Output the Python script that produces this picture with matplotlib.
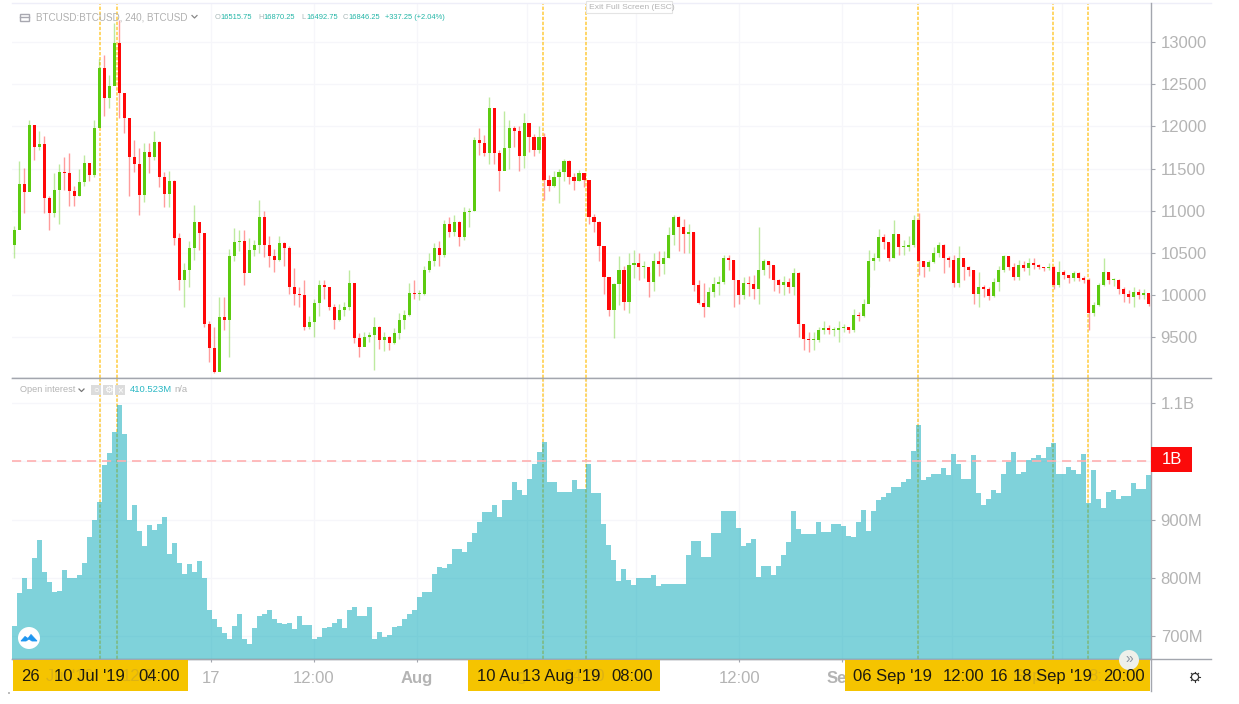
import matplotlib
matplotlib.use("Agg")
import matplotlib.pyplot as plt
from matplotlib.lines import Line2D
from matplotlib.patches import Circle, Rectangle, Polygon
from matplotlib.transforms import Affine2D

plt.rcParams['font.family'] = ['Liberation Sans', 'DejaVu Sans']

W, H = 1239, 704

close_px = [
10775,11320,11220,12020,11760,11790,11150,10970,11250,11460,11450,11230,11170,11345,11565,11430,
11980,12690,12335,12480,12990,12400,12100,11640,11550,11190,11700,11640,11820,11405,11200,11350,
10675,10180,10300,10560,10870,10735,9665,9370,9090,9745,9705,10460,10635,10640,10260,10535,10595,
10930,10595,10460,10420,10615,10560,10100,10020,10000,9630,9685,9905,10120,10100,9865,9710,9825,
9860,10140,9490,9390,9510,9530,9625,9470,9510,9430,9550,9710,
9770,10025,10010,10020,10300,10400,10555,10480,10850,10750,10870,10690,10990,11000,11840,11800,
11680,12215,11680,11470,11740,11980,11940,11650,12040,11870,11720,11880,11370,11290,11400,11465,
11585,11405,11350,11445,11370,10930,10870,10580,10220,9825,10130,10300,9925,10360,10380,10340,
10340,10160,10400,10370,10440,10715,10930,10810,10730,10750,10120,9910,9865,10040,10130,10160,
10440,10420,10180,10000,10140,10130,10080,10300,10400,10360,10180,10120,10160,10100,10260,9665,
9480,9470,9470,9590,9610,9590,9590,9610,9625,9590,9765,9760,9900,10400,10440,10695,10630,10440,
10730,10570,10570,10590,10890,10400,10340,10395,10500,10600,10440,10415,10140,10440,10340,10300,
10020,10100,10080,9990,10160,10300,10460,10340,10220,10360,10320,10380,10360,10340,10320,10340,
10120,10280,10240,10200,10260,10200,10180,9785,9885,10120,10280,10180,10180,10080,10020,9980,
10040,10000,10030,9900]
high_px = [
10815,11585,11505,12080,11980,11940,11890,11180,11450,11550,11640,11680,11300,11490,11660,11520,
12080,12800,12850,12610,13225,13265,12400,12100,11840,11740,11800,11800,11940,11830,11460,11470,
11370,10735,10380,10640,11070,10870,10580,9700,9620,9980,9980,10550,10795,10770,10775,10680,10650,
11130,11000,10700,10550,10700,10630,10580,10320,10100,10180,9750,9950,10180,10180,10050,9900,9900,
9920,10300,10130,9550,9560,9570,9745,9640,9570,9520,9610,9790,
9820,10140,10180,10060,10350,10500,10620,10640,10890,10930,10950,10880,11050,11030,11880,11980,
11900,12350,11840,11720,12180,12080,12000,12000,12160,12020,11910,12000,11920,11420,11470,11500,
11620,11600,11450,11480,11450,11330,10960,10880,10560,10200,10150,10460,10350,10500,10540,10500,
10400,10280,10500,10520,10520,10810,10950,10940,10900,10850,10750,10180,10150,10100,10220,10230,
10480,10480,10420,10100,10220,10230,10240,10810,10430,10400,10350,10190,10230,10200,10320,10270,
9660,9560,9570,9630,9690,9650,9630,9700,9660,9630,9840,9800,9950,10540,10500,10790,10720,10620,
10890,10730,10660,10700,10950,10970,10400,10420,10570,10630,10610,10470,10480,10580,10420,10350,
10300,10280,10120,10100,10200,10350,10480,10460,10380,10420,10400,10440,10440,10370,10340,10380,
10350,10400,10300,10240,10290,10270,10230,10200,9920,10140,10440,10280,10210,10190,10100,10060,
10100,10080,10070,10000]
low_px = [
10440,10810,10970,11250,11600,11720,10970,10770,10930,10850,11250,11060,11060,11170,11300,11350,
11400,12200,12120,12220,12550,12100,11920,11170,11465,10950,11110,11450,11600,11280,11050,11050,
10600,10060,9865,10100,10420,10540,9620,9210,9080,9150,9590,9270,10400,10520,10120,10340,10460,
10500,10450,10330,10280,10400,10350,10010,9890,9865,9590,9600,9510,9750,9950,9830,9600,9700,
9750,9830,9440,9270,9400,9450,9115,9360,9340,9350,9420,9480,
9600,9760,9950,9945,10000,10280,10350,10350,10450,10690,10700,10580,10650,10810,11000,11660,
11650,11560,11560,11230,11485,11500,11760,11470,11510,11700,11650,11680,11130,11230,11280,11090,
11350,11320,11250,11350,11280,10850,10750,10400,10020,9760,9490,9880,9820,9785,10200,10180,
10200,9985,10050,10230,10250,10440,10600,10530,10500,10500,10050,9900,9745,9860,9980,10000,
10130,10300,9865,9900,9950,9990,9950,9900,10240,10200,10050,10030,10000,10030,10000,9510,
9350,9330,9350,9450,9540,9540,9520,9450,9570,9550,9560,9700,9740,10100,10300,10400,10550,10400,
10440,10480,10480,10530,10570,10240,10220,10290,10380,10450,10260,10330,10100,10100,10180,10230,
9900,9865,9980,9940,9980,10050,10280,10300,10180,10180,10290,10240,10310,10310,10290,10300,
10080,10100,10190,10150,10170,10170,10140,9590,9750,9870,10110,10130,10110,10010,9920,9910,
9860,9950,9950,9870]
first_open = 10600

open_interest_m = [
718,773,800,781,834,864,810,792,776,778,813,800,800,804,825,870,900,930,993,1015,1050,1097,1046,899,
925,880,855,890,882,893,905,840,859,825,806,824,810,829,800,745,730,715,705,695,718,738,695,687,713,
735,738,745,730,722,720,722,712,735,719,719,695,698,714,715,722,730,713,745,750,735,735,750,695,707,
698,702,715,718,729,738,745,767,
776,776,807,818,817,824,850,850,844,862,876,896,913,913,925,905,933,933,965,950,942,970,996,1016,1033,
964,964,948,948,948,968,953,953,996,946,946,893,856,830,794,815,796,787,799,799,799,804,785,790,790,
790,790,790,839,863,863,836,836,876,876,914,914,914,885,855,859,866,801,821,821,804,821,839,862,914,
883,875,875,875,895,879,879,893,893,
889,872,870,896,917,880,914,933,939,945,955,955,965,970,1017,1062,968,973,979,979,988,976,1012,996,
970,970,1010,945,925,936,950,945,979,998,1016,979,982,1002,1006,1010,1006,1025,1031,978,978,990,985,
979,1012,929,985,936,919,948,950,935,941,941,962,953,953,976]

price_ticks = [9500, 10000, 10500, 11000, 11500, 12000, 12500, 13000]
oi_ticks = [700, 800, 900, 1000, 1100]
oi_tick_labels = ['700M', '800M', '900M', '', '1.1B']
event_bars = [17.2, 20.5, 105.7, 114.5, 180.8, 207.9, 214.8]
grid_bars = [39.3, 59.9, 80.5, 102.5, 124.5, 145.1, 165.7, 187.7, 209.7]
grid_labels = ['17', '12:00', 'Aug', '', '', '12:00', 'Sep', '', '']
threshold_m = 1000

GREEN, RED = '#5ccb10', '#ff0808'
GREY_TXT = '#b4b4b4'
LINE = '#a3a6ae'
GRID = '#f6f6fa'
TEAL = '#22b5a6'


def fx(x):
    return x / W


def fy(y):
    return 1 - y / H


fig = plt.figure(figsize=(W / 100, H / 100), dpi=100, facecolor='white')
ax1 = fig.add_axes([fx(12), fy(378), (1151 - 12) / W, (378 - 3) / H])
ax2 = fig.add_axes([fx(12), fy(659), (1151 - 12) / W, (659 - 378) / H])

n = len(close_px)
xs = list(range(n))
opens = [first_open] + close_px[:-1]
colors = [GREEN if c >= o else RED for c, o in zip(close_px, opens)]
ax1.vlines(xs, low_px, high_px, colors=colors, lw=1.0, alpha=0.4, zorder=3)
ax1.bar(xs, [max(abs(c - o), 12) for c, o in zip(close_px, opens)],
        bottom=[min(c, o) for c, o in zip(close_px, opens)],
        width=0.62, color=colors, linewidth=0, zorder=4)
ax1.set_ylim(9020, 13462)
ax1.set_xlim(-0.5, n - 0.5)
ax1.set_yticks(price_ticks)
ax1.set_xticks(grid_bars)
ax1.tick_params(axis='x', length=0, labelbottom=False)

edges = [i - 0.5 for i in range(n + 1)]
ax2.stairs(open_interest_m, edges, baseline=600, fill=True, color='#00a7b7',
           alpha=0.5, linewidth=0, zorder=3)
ax2.axhline(threshold_m, color='#ffb0b0', lw=1.2, dashes=(5.5, 3.5), zorder=4)
ax2.set_ylim(660.5, 1143)
ax2.set_xlim(-0.5, n - 0.5)
ax2.set_yticks(oi_ticks)
ax2.set_yticklabels(oi_tick_labels)
ax2.set_xticks(grid_bars + event_bars)
ax2.set_xticklabels(grid_labels + [''] * len(event_bars))
for lab, label_text in zip(ax2.get_xticklabels(), grid_labels + [''] * len(event_bars)):
    if label_text in ('Aug', 'Sep'):
        lab.set_fontweight('bold')

for ax in (ax1, ax2):
    ax.set_facecolor('white')
    ax.yaxis.tick_right()
    ax.tick_params(axis='y', length=3, width=0.8, color=LINE, labelcolor=GREY_TXT,
                   labelsize=12, pad=4)
    ax.grid(True, color=GRID, lw=0.9, zorder=0)
    ax.set_axisbelow(True)
    for s in ('top', 'left', 'right'):
        ax.spines[s].set_visible(False)
    ax.spines['bottom'].set_color(LINE)
    ax.spines['bottom'].set_linewidth(1.0)
    for b in event_bars:
        ax.axvline(b, color='#ffcb3d', lw=1.1, dashes=(2.2, 1.1), zorder=2)
ax2.tick_params(axis='x', length=2.5, width=0.8, color=LINE, labelcolor=GREY_TXT,
                labelsize=12, pad=6)


def hline(y, x0, x1, c=LINE, lw=1.0):
    fig.add_artist(Line2D([fx(x0), fx(x1)], [fy(y), fy(y)], color=c, lw=lw, zorder=2))


def vline(x, y0, y1, c=LINE, lw=1.0):
    fig.add_artist(Line2D([fx(x), fx(x)], [fy(y0), fy(y1)], color=c, lw=lw, zorder=2))


def txt(x, y, s, **kw):
    kw.setdefault('va', 'center')
    kw.setdefault('ha', 'left')
    kw.setdefault('zorder', 6)
    fig.text(fx(x), fy(y), s, **kw)


def rect(x0, y0, x1, y1, **kw):
    kw.setdefault('linewidth', 0)
    kw.setdefault('zorder', 3)
    fig.add_artist(Rectangle((fx(x0), fy(y1)), (x1 - x0) / W, (y1 - y0) / H,
                             transform=fig.transFigure, **kw))


hline(2.5, 12, 1211, c='#eeeef8')
hline(378, 12, 1211)
hline(659, 12, 1211)
vline(1151, 3, 691)

# yellow date boxes and the labels crowded on them
YEL = '#f5c400'
for x0, x1 in ((12.7, 187.7), (468, 660), (845, 1150)):
    rect(x0, 660, x1, 690.7, facecolor=YEL)
for x, s in ((46, "Jul '19"), (122, '12:0'), (516, 'g'), (563, '04:00'), (1012, 'Sep'), (1088, '8:')):
    txt(x, 676.5, s, color='#dcb215', fontsize=12, zorder=5)
for x, s in ((21, '26'), (54, "10 Jul '19"), (138, '04:00'), (477, '10 Au'), (522, "13 Aug '19"),
             (611, '08:00'), (853, "06 Sep '19"), (943, '12:00'), (990, '16'), (1013, "18 Sep '19"),
             (1103, '20:00')):
    txt(x, 676.5, s, color='#1c1a10', fontsize=12)

# threshold tag
rect(1151, 447, 1192, 472, facecolor='#fb0a0a')
txt(1171.5, 459.5, '1B', color='white', fontsize=12, ha='center')

# top-left legend
rect(19.5, 13.5, 29, 21, facecolor='none', edgecolor='#a8a8b0', linewidth=1)
hline(17, 19.5, 29, c='#a8a8b0', lw=1)
txt(36, 17, 'BTCUSD:BTCUSD, 240, BTCUSD', color='#b0b0b0', fontsize=7.1)
fig.add_artist(Line2D([fx(192), fx(194.5), fx(197)], [fy(15.5), fy(18), fy(15.5)], color='#888888', lw=0.9, zorder=6))
for x, letter, val in ((215, 'O', '16515.75'), (258, 'H', '16870.25'), (301, 'L', '16492.75'), (343, 'C', '16846.25')):
    txt(x, 17.5, letter, color='#a8b8b8', fontsize=5.4)
    txt(x + 5, 17.5, val, color=TEAL, fontsize=5.4)
txt(385, 17.5, '+337.25 (+2.04%)', color=TEAL, fontsize=5.4)

# exit banner
rect(586, 1, 672, 13, facecolor='white', edgecolor='#e4e4e4', linewidth=0.8)
txt(589, 7.5, 'Exit Full Screen (ESC)', color='#b4b4b4', fontsize=6.1)

# lower legend
txt(20, 390, 'Open interest', color='#b4b4b4', fontsize=6.6)
fig.add_artist(Line2D([fx(79), fx(81.5), fx(84)], [fy(389), fy(391.5), fy(389)], color='#777777', lw=0.9, zorder=6))
for x0, g in ((91, '\u25cb'), (103, '\u2699'), (115, '\u00d7')):
    rect(x0, 385, x0 + 10, 395, facecolor='#dcdcdc')
    txt(x0 + 5, 390, g, color='white', fontsize=7, ha='center')
txt(130, 390, '410.523M', color='#2bb8c4', fontsize=6.8)
txt(174, 390, 'n/a', color='#b4b4b4', fontsize=6.8)

# corner logo, scroll button and settings gear
pix = Affine2D().scale(1 / W, 1 / H) + fig.transFigure


def circle(x, y, r, **kw):
    fig.add_artist(Circle((x, H - y), r, transform=pix, **kw))


circle(29, 638, 11, facecolor='white', edgecolor='none', zorder=5)
fig.add_artist(Polygon([(21, H - 641), (25, H - 636.5), (28, H - 638.5), (31, H - 634.5), (37, H - 641), (32, H - 641), (29, H - 639), (26, H - 641)],
                       transform=pix, facecolor='#1e96f0', edgecolor='#1e96f0', lw=0.6, zorder=6))
circle(1129, 660, 10, facecolor='#eef0ea', edgecolor='none', zorder=5)
txt(1129, 659, '\u00bb', color='#8a94a0', fontsize=10, ha='center', zorder=7)
circle(1195, 677, 3.6, facecolor='none', edgecolor='#333333', lw=0.9, zorder=6)
for dx, dy in ((0, -5), (0, 5), (-5, 0), (5, 0), (-3.6, -3.6), (3.6, 3.6), (-3.6, 3.6), (3.6, -3.6)):
    fig.add_artist(Line2D([(1195 + dx * 0.72) / W, (1195 + dx) / W], [(H - 677 - dy * 0.72) / H, (H - 677 - dy) / H],
                          color='#333333', lw=0.8, zorder=6))
circle(9, 693, 0.7, facecolor='#555555', edgecolor='none', zorder=6)

fig.savefig('out.png', dpi=100, facecolor='white')
